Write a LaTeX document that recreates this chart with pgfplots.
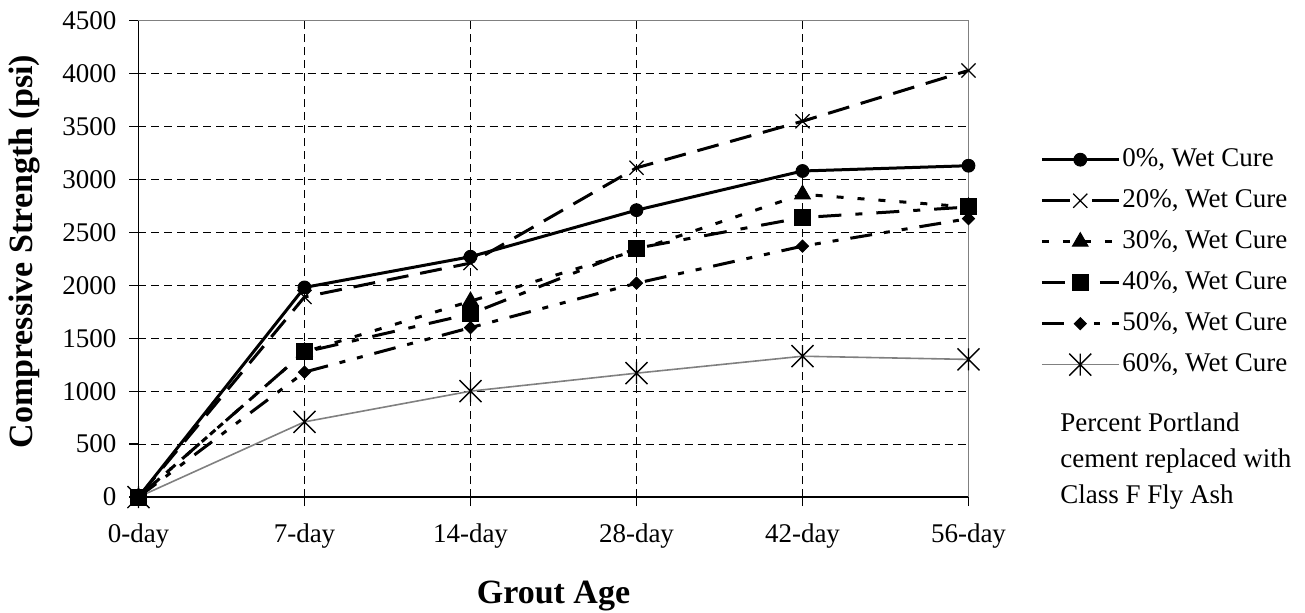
\documentclass[border=0pt]{standalone}
\usepackage{fontspec}
\setmainfont{Liberation Serif}
\usepackage{pgfplots}
\usepackage{pgfplotstable}
\pgfplotsset{compat=1.18}

\pgfdeclareplotmark{xstar}{%
 \pgfpathmoveto{\pgfqpoint{-\pgfplotmarksize}{-\pgfplotmarksize}}%
 \pgfpathlineto{\pgfqpoint{\pgfplotmarksize}{\pgfplotmarksize}}%
 \pgfpathmoveto{\pgfqpoint{-\pgfplotmarksize}{\pgfplotmarksize}}%
 \pgfpathlineto{\pgfqpoint{\pgfplotmarksize}{-\pgfplotmarksize}}%
 \pgfpathmoveto{\pgfqpoint{0pt}{-\pgfplotmarksize}}%
 \pgfpathlineto{\pgfqpoint{0pt}{\pgfplotmarksize}}%
 \pgfusepathqstroke}
\pgfdeclareplotmark{exdiamond}{%
 \pgfpathmoveto{\pgfqpoint{0pt}{\pgfplotmarksize}}%
 \pgfpathlineto{\pgfqpoint{\pgfplotmarksize}{0pt}}%
 \pgfpathlineto{\pgfqpoint{0pt}{-\pgfplotmarksize}}%
 \pgfpathlineto{\pgfqpoint{-\pgfplotmarksize}{0pt}}%
 \pgfpathclose\pgfusepathqfillstroke}

\definecolor{lgray}{RGB}{128,128,128}

\pgfplotstableread{
x s0 s20 s30 s40 s50 s60
0 0 0 0 0 0 0
1 1980 1890 1370 1370 1180 710
2 2270 2210 1850 1730 1600 1000
3 2710 3110 2330 2350 2020 1170
4 3080 3550 2860 2640 2370 1330
5 3130 4030 2740 2740 2630 1300
}\data

\begin{document}
\begin{tikzpicture}[font=\fontsize{13.5}{16.2}\selectfont]
\useasboundingbox (-69.25pt,-57.5pt) rectangle (583.25pt,248.5pt);
\begin{axis}[
  at={(0,0)}, anchor=south west,
  scale only axis, width=415pt, height=238.15pt,
  xmin=0, xmax=5, ymin=0, ymax=4500,
  xtick={0,1,2,3,4,5},
  xticklabels={0-day,7-day,14-day,28-day,42-day,56-day},
  ytick={0,500,...,4500},
  /pgf/number format/1000 sep={},
  /pgf/number format/assume math mode=true,
  axis x line*=bottom, axis y line*=left,
  axis line style={black, line width=0.6pt, -},
  tick align=outside, major tick length=4.5pt,
  tick style={black, line width=0.6pt},
  grid=major,
  major grid style={black, line width=0.5pt, dash pattern=on 4pt off 2.5pt},
  xticklabel style={yshift=-5.25pt},
  yticklabel style={xshift=-3pt},
  xlabel={\fontsize{17}{20}\selectfont\bfseries Grout Age},
  ylabel={\fontsize{17}{20}\selectfont\bfseries Compressive Strength (psi)},
  xlabel style={at={(rel axis cs:0.5,0)}, anchor=center, yshift=-49.5pt},
  ylabel style={at={(rel axis cs:0,0.515)}, anchor=center, yshift=57pt},
  clip=false,
  legend cell align=left,
  legend style={at={(rel axis cs:1.086,0.493)}, anchor=west, draw=none, fill=none,
    inner sep=0pt, row sep=5.5pt,
    nodes={inner sep=1pt, text height=10pt, text depth=3pt}},
  legend image code/.code={\draw[mark repeat=2,mark phase=2,#1] plot coordinates {(0pt,0pt) (19.25pt,0pt) (38.5pt,0pt)};},
]
\addplot[black, line width=1.5pt, mark=*, mark size=3.2pt, mark options={solid, line width=0.5pt}] table[x=x,y=s0] {\data};
\addlegendentry{0\%, Wet Cure}
\addplot[black, line width=1.5pt, dash pattern=on 11pt off 6pt, dash phase=-2pt, mark=x, mark size=5pt, mark options={solid, line width=0.6pt},
  legend image post style={dash pattern=on 14pt off 11pt, dash phase=0pt}] table[x=x,y=s20] {\data};
\addlegendentry{20\%, Wet Cure}
\addplot[black, line width=1.5pt, dash pattern=on 3.5pt off 7pt, mark=triangle*, mark size=4.5pt, mark options={solid, line width=0.5pt}] table[x=x,y=s30] {\data};
\addlegendentry{30\%, Wet Cure}
\addplot[black, line width=1.5pt, dash pattern=on 11.5pt off 7pt on 3.5pt off 7pt, mark=square*, mark size=4pt, mark options={solid, line width=0.5pt}] table[x=x,y=s40] {\data};
\addlegendentry{40\%, Wet Cure}
\addplot[black, line width=1.5pt, dash pattern=on 11pt off 6pt on 3pt off 6pt on 3pt off 6pt, mark=exdiamond, mark size=3pt, mark options={solid, line width=0.5pt}] table[x=x,y=s50] {\data};
\addlegendentry{50\%, Wet Cure}
\addplot[lgray, line width=0.8pt, mark=xstar, mark size=5.5pt, mark options={solid, black, line width=0.7pt}] table[x=x,y=s60] {\data};
\addlegendentry{60\%, Wet Cure}
\draw[lgray, line width=0.6pt] (rel axis cs:0,1) -- (rel axis cs:1,1) -- (rel axis cs:1,0);
\node[anchor=west, align=left, inner sep=0pt, font=\fontsize{13.5}{18}\selectfont] at (rel axis cs:1.1102,0.075) {Percent Portland\\cement replaced with\\Class F Fly Ash};
\end{axis}
\end{tikzpicture}
\end{document}
